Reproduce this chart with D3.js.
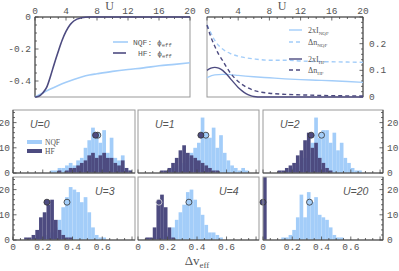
<!DOCTYPE html>
<html>
<head>
<meta charset="utf-8">
<script src="https://cdn.jsdelivr.net/npm/d3@7"></script>
<style>
  body { margin: 0; background: #fff; }
  svg { display: block; }
  text { font-family: "Liberation Mono", monospace; fill: #555; }
</style>
</head>
<body>
<div id="chart"></div>
<script>
const WIDTH = 399;
const HEIGHT = 271;
const LIGHT = "#a3cdf9";
const DARK = "#4d4b80";

// ---- top panels: curves vs U ----
const U_HF_PHI = [0, 0.5, 1, 1.5, 2, 2.5, 3, 3.5, 4, 4.5, 5, 6, 7, 8, 20];
const HF_PHI = [-0.5, -0.495, -0.475, -0.44, -0.37, -0.29, -0.215, -0.145, -0.09, -0.05, -0.025, -0.005, 0, 0, 0];
const U_NQF_PHI = [0, 1, 2, 3, 4, 5, 6, 7, 8, 10, 12, 14, 16, 18, 20];
const NQF_PHI = [-0.5, -0.475, -0.45, -0.428, -0.408, -0.39, -0.375, -0.363, -0.355, -0.34, -0.328, -0.318, -0.305, -0.296, -0.286];

const U_I_NQF = [0, 1, 2, 3, 4, 6, 8, 10, 12, 14, 16, 18, 20];
const I_NQF = [0.073, 0.083, 0.085, 0.084, 0.081, 0.076, 0.072, 0.068, 0.065, 0.063, 0.061, 0.058, 0.055];
const U_DN_NQF = [0, 0.5, 1, 1.5, 2, 3, 4, 5, 6, 8, 10, 12, 14, 16, 18, 20];
const DN_NQF = [0.27, 0.24, 0.212, 0.193, 0.18, 0.163, 0.153, 0.147, 0.143, 0.138, 0.138, 0.135, 0.133, 0.132, 0.131, 0.13];
const U_I_HF = [0, 0.5, 1, 1.5, 2, 2.5, 3, 3.5, 4, 4.5, 5, 5.5, 6, 7, 8, 20];
const I_HF = [0.1, 0.108, 0.111, 0.108, 0.1, 0.086, 0.069, 0.052, 0.036, 0.023, 0.013, 0.006, 0.002, 0, 0, 0];
const U_DN_HF = [0, 0.5, 1, 1.5, 2, 2.5, 3, 4, 5, 6, 7, 8, 10, 12, 16, 20];
const DN_HF = [0.27, 0.225, 0.19, 0.16, 0.137, 0.112, 0.09, 0.058, 0.038, 0.025, 0.018, 0.014, 0.01, 0.008, 0.005, 0.004];

const U_TICKS = [0, 4, 8, 12, 16, 20];

// ---- bottom panels: histograms of delta v_eff ----
const BIN = 0.025;
const PANEL_U = ["U=0", "U=1", "U=2", "U=3", "U=4", "U=20"];
// counts per bin, starting at bin index given in *_START (bin i covers [i*BIN, (i+1)*BIN))
const NQF_START = [10, 8, 6, 6, 5, 5];
const NQF_COUNTS = [
  [1, 1, 2, 2, 3, 4, 3, 5, 6, 10, 13, 18, 14, 12, 17, 8, 14, 6, 5, 7, 2, 1],
  [1, 2, 1, 3, 4, 6, 8, 10, 12, 22, 16, 14, 18, 10, 15, 8, 5, 3, 2, 1, 2, 1],
  [1, 1, 2, 3, 4, 6, 8, 12, 22, 14, 17, 17, 12, 16, 9, 12, 6, 4, 2, 1, 1],
  [1, 1, 1, 2, 3, 5, 8, 13, 17, 21, 20, 19, 15, 17, 11, 5, 2, 1, 1],
  [1, 1, 2, 3, 5, 8, 11, 14, 19, 20, 16, 13, 10, 6, 3, 3, 2, 1],
  [1, 1, 2, 4, 9, 18, 9, 19, 15, 17, 10, 9, 8, 5, 2, 1, 1]
];
const HF_START = [12, 6, 4, 3, 2, 0];
const HF_COUNTS = [
  [1, 0, 1, 2, 2, 3, 4, 5, 7, 8, 6, 7, 8, 6, 6, 4, 3, 5, 2, 1],
  [1, 1, 2, 4, 6, 9, 11, 8, 7, 6, 5, 4, 3, 2, 1, 1],
  [1, 1, 2, 3, 4, 7, 9, 13, 16, 10, 12, 6, 4, 2, 1],
  [1, 1, 2, 4, 9, 11, 14, 16, 8, 4, 2, 1, 1],
  [1, 1, 5, 14, 18, 13, 5, 1],
  [150]
];
const HF_MEAN = [0.555, 0.426, 0.329, 0.228, 0.142, 0.0];
const NQF_MEAN = [0.57, 0.46, 0.40, 0.363, 0.345, 0.318];
const MEAN_Y = 15;
const DV_TICKS = [0, 0.2, 0.4, 0.6];
const COUNT_TICKS = [0, 10, 20];

const svg = d3.select("#chart").append("svg")
  .attr("width", WIDTH).attr("height", HEIGHT);

function zipXY(xs, ys) { return xs.map((x, i) => [x, ys[i]]); }

// ---------- top panels ----------
function topPanel(x0, x1, yDomain) {
  const x = d3.scaleLinear().domain([0, 20]).range([x0, x1]);
  const y = d3.scaleLinear().domain(yDomain).range([97, 17]);
  const g = svg.append("g");
  g.append("rect").attr("x", x0).attr("y", 17).attr("width", x1 - x0).attr("height", 80)
    .attr("fill", "none").attr("stroke", "#999").attr("stroke-width", 1);
  // top axis
  g.append("line").attr("x1", x0).attr("x2", x1).attr("y1", 17).attr("y2", 17)
    .attr("stroke", "#444");
  d3.range(0, 21, 1).forEach(u => {
    g.append("line").attr("x1", x(u)).attr("x2", x(u)).attr("y1", 17)
      .attr("y2", 17 + (u % 4 === 0 ? 3.5 : 2)).attr("stroke", "#444").attr("stroke-width", 0.8);
  });
  g.selectAll(".ut").data(U_TICKS).enter().append("text")
    .attr("x", d => x(d)).attr("y", 13.5).attr("text-anchor", "middle")
    .attr("font-size", 9.5).text(d => d);
  g.append("text").attr("x", (x0 + x1) / 2 - 3).attr("y", 9.5).attr("text-anchor", "middle")
    .style("font-family", "Liberation Serif, serif").attr("font-size", 12).attr("fill", "#444").text("U");
  return { g, x, y };
}

const TL = topPanel(35, 190, [-0.5, 0]);
// left axis
TL.g.append("line").attr("x1", 35).attr("x2", 35).attr("y1", 17).attr("y2", 97).attr("stroke", "#444");
d3.range(0, 11).forEach(i => {
  const v = -i * 0.05;
  TL.g.append("line").attr("x1", 35).attr("x2", 35 + (i % 4 === 0 ? 3.5 : 2))
    .attr("y1", TL.y(v)).attr("y2", TL.y(v)).attr("stroke", "#444").attr("stroke-width", 0.8);
});
TL.g.selectAll(".yl").data([0, -0.2, -0.4]).enter().append("text")
  .attr("x", 31).attr("y", d => TL.y(d) + 3).attr("text-anchor", "end")
  .attr("font-size", 9.5).text(d => d === 0 ? "0" : d3.format(".1f")(d).replace("−", "-"));

const line = (sx, sy) => d3.line().x(d => sx(d[0])).y(d => sy(d[1])).curve(d3.curveMonotoneX);
TL.g.append("path").datum(zipXY(U_NQF_PHI, NQF_PHI)).attr("d", line(TL.x, TL.y))
  .attr("fill", "none").attr("stroke", LIGHT).attr("stroke-width", 1.6);
TL.g.append("path").datum(zipXY(U_HF_PHI, HF_PHI)).attr("d", line(TL.x, TL.y))
  .attr("fill", "none").attr("stroke", DARK).attr("stroke-width", 1.6);

function phiLegend(g, xl0, xl1, xt, y, label, color) {
  g.append("line").attr("x1", xl0).attr("x2", xl1).attr("y1", y).attr("y2", y)
    .attr("stroke", color).attr("stroke-width", 1.6);
  const t = g.append("text").attr("x", xt).attr("y", y + 2.5).attr("font-size", 8).attr("fill", "#555");
  t.append("tspan").text(label + " \u03d5");
  t.append("tspan").attr("font-size", 5.5).attr("dy", 2).text("eff");
}
phiLegend(TL.g, 113, 128, 133, 42, "NQF:", LIGHT);
phiLegend(TL.g, 113, 126, 138, 53, "HF:", DARK);

const TR = topPanel(207, 363, [0, 0.3]);
TR.g.append("line").attr("x1", 363).attr("x2", 363).attr("y1", 17).attr("y2", 97).attr("stroke", "#444");
d3.range(0, 31, 2).forEach(i => {
  const v = i / 100;
  TR.g.append("line").attr("x1", 363).attr("x2", 363 - (i % 10 === 0 ? 3.5 : 2))
    .attr("y1", TR.y(v)).attr("y2", TR.y(v)).attr("stroke", "#444").attr("stroke-width", 0.8);
});
TR.g.selectAll(".yl").data([0, 0.1, 0.2]).enter().append("text")
  .attr("x", 369).attr("y", d => TR.y(d) + 3).attr("font-size", 9.5).text(d => d === 0 ? "0" : d);

const series = [
  [U_DN_NQF, DN_NQF, LIGHT, "4,3"],
  [U_I_NQF, I_NQF, LIGHT, null],
  [U_DN_HF, DN_HF, DARK, "4,3"],
  [U_I_HF, I_HF, DARK, null]
];
series.forEach(([xs, ys, c, dash]) => {
  TR.g.append("path").datum(zipXY(xs, ys)).attr("d", line(TR.x, TR.y))
    .attr("fill", "none").attr("stroke", c).attr("stroke-width", 1.4)
    .attr("stroke-dasharray", dash);
});

function subLegend(g, y, main, sub, color, dash) {
  g.append("line").attr("x1", 289).attr("x2", 302).attr("y1", y).attr("y2", y)
    .attr("stroke", color).attr("stroke-width", 1.4).attr("stroke-dasharray", dash);
  const t = g.append("text").attr("x", 308).attr("y", y + 2.5).attr("font-size", 8)
    .style("font-family", "Liberation Serif, serif").attr("fill", "#555");
  t.append("tspan").text(main);
  t.append("tspan").attr("font-size", 5).attr("dy", 2).text(sub);
}
subLegend(TR.g, 30, "2xI", "NQF", LIGHT, null);
subLegend(TR.g, 42, "\u0394n", "NQF", LIGHT, "4,3");
subLegend(TR.g, 59, "2xI", "HF", DARK, null);
subLegend(TR.g, 70, "\u0394n", "HF", DARK, "4,3");

// ---------- bottom histograms ----------
const COLS = [[13, 135], [138, 259], [263, 383]];
const ROWS = [[110, 173], [177, 240]];

PANEL_U.forEach((lab, p) => {
  const [x0, x1] = COLS[p % 3];
  const [y0, y1] = ROWS[Math.floor(p / 3)];
  const x = d3.scaleLinear().domain([0, 0.82]).range([x0, x1]);
  const y = d3.scaleLinear().domain([0, 25]).range([y1, y0]);
  const g = svg.append("g");
  const clipId = "clip" + p;
  g.append("clipPath").attr("id", clipId).append("rect")
    .attr("x", x0).attr("y", y0).attr("width", x1 - x0).attr("height", y1 - y0);
  const hg = g.append("g").attr("clip-path", `url(#${clipId})`);

  const bars = (start, counts, color) => {
    hg.selectAll(null).data(counts.map((c, i) => [(start + i) * BIN, c])).enter().append("rect")
      .attr("x", d => x(d[0])).attr("width", d => x(d[0] + BIN) - x(d[0]))
      .attr("y", d => y(d[1])).attr("height", d => y(0) - y(d[1]))
      .attr("fill", color);
  };
  bars(NQF_START[p], NQF_COUNTS[p], LIGHT);
  bars(HF_START[p], HF_COUNTS[p], DARK);

  hg.append("circle").attr("cx", x(NQF_MEAN[p])).attr("cy", y(MEAN_Y)).attr("r", 3)
    .attr("fill", LIGHT).attr("stroke", "#333").attr("stroke-width", 0.8);
  g.append("circle").attr("cx", x(HF_MEAN[p])).attr("cy", y(MEAN_Y)).attr("r", 3)
    .attr("fill", DARK).attr("stroke", p === 4 ? "#ddd" : "#333").attr("stroke-width", 0.8);

  g.append("rect").attr("x", x0).attr("y", y0).attr("width", x1 - x0).attr("height", y1 - y0)
    .attr("fill", "none").attr("stroke", "#999").attr("stroke-width", 1);
  // bottom axis
  g.append("line").attr("x1", x0).attr("x2", x1).attr("y1", y1).attr("y2", y1).attr("stroke", "#444");
  d3.range(0, 17).forEach(i => {
    const v = i * 0.05;
    if (x(v) > x1) return;
    g.append("line").attr("x1", x(v)).attr("x2", x(v)).attr("y1", y1)
      .attr("y2", y1 - (i % 4 === 0 ? 3.5 : 2)).attr("stroke", "#444").attr("stroke-width", 0.8);
  });
  if (p >= 3) {
    g.selectAll(".xl").data(DV_TICKS).enter().append("text")
      .attr("x", d => x(d)).attr("y", 250).attr("text-anchor", "middle")
      .attr("font-size", 9.5).text(d => d === 0 ? "0" : d);
  }
  const col = p % 3;
  if (col !== 1) {
    const ax = col === 0 ? x0 : x1;
    const dir = col === 0 ? 1 : -1;
    g.append("line").attr("x1", ax).attr("x2", ax).attr("y1", y0).attr("y2", y1).attr("stroke", "#444");
    d3.range(0, 13).forEach(i => {
      const v = i * 2;
      g.append("line").attr("x1", ax).attr("x2", ax + dir * (i % 5 === 0 ? 3.5 : 2))
        .attr("y1", y(v)).attr("y2", y(v)).attr("stroke", "#444").attr("stroke-width", 0.8);
    });
    g.selectAll(".yl").data(COUNT_TICKS).enter().append("text")
      .attr("x", col === 0 ? x0 - 3 : x1 + 4).attr("y", d => y(d) + 3)
      .attr("text-anchor", col === 0 ? "end" : "start")
      .attr("font-size", 9.5).text(d => d);
  }
  const lx = [30, 155, 280, 95, 219, 343][p];
  g.append("text").attr("x", lx).attr("y", y0 + 18).attr("font-size", 10.5)
    .style("font-family", "Liberation Sans, sans-serif").style("font-style", "italic")
    .attr("fill", "#777").text(lab);

  if (p === 0) {
    const leg = [["NQF", LIGHT, 142], ["HF", DARK, 151]];
    leg.forEach(([t, c, ly]) => {
      g.append("line").attr("x1", 27).attr("x2", 42).attr("y1", ly).attr("y2", ly)
        .attr("stroke", c).attr("stroke-width", 4);
      g.append("text").attr("x", 45).attr("y", ly + 2.5).attr("font-size", 7.5)
        .style("font-family", "Liberation Serif, serif").attr("fill", "#555").text(t);
    });
  }
});

const xl = svg.append("text").attr("x", 197).attr("y", 265).attr("text-anchor", "middle")
  .style("font-family", "Liberation Serif, serif").attr("font-size", 13).attr("fill", "#333");
xl.append("tspan").text("\u0394v");
xl.append("tspan").attr("font-size", 9).attr("dy", 3).text("eff");
</script>
</body>
</html>
